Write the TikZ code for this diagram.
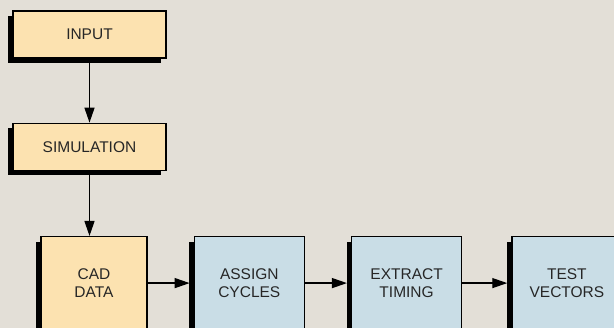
\documentclass[tikz,border=0pt]{standalone}
\usepackage{fontspec}
\setmainfont{Liberation Sans}
\usetikzlibrary{arrows.meta,positioning,shadows}
\definecolor{paper}{RGB}{227,223,215}
\definecolor{srcfill}{RGB}{252,226,176}
\definecolor{toolfill}{RGB}{201,221,230}

\begin{document}
\begin{tikzpicture}[
  x=1pt,y=1pt,
  node distance=46pt,
  stepbox/.style={draw,line width=1.3pt,align=center,text=black!85,inner sep=0pt,
    font=\fontsize{15.5}{18}\selectfont,
    drop shadow={shadow xshift=-5pt,shadow yshift=-5pt,fill=black,opacity=1}},
  srcbox/.style={stepbox,fill=srcfill,minimum width=153pt,minimum height=47pt},
  toolbox/.style={stepbox,fill=toolfill,minimum width=110pt,minimum height=93pt},
  arr/.style={-{Triangle[length=15pt,width=10pt]},line width=1.3pt}
]
\fill[paper] (0,0) rectangle (614,328);
\useasboundingbox (0,0) rectangle (614,328);
\node[srcbox] (input) at (89.5,293.5) {INPUT};
\node[srcbox,below=64pt of input] (sim) {SIMULATION};
\node[toolbox,fill=srcfill,minimum width=106pt,below=65pt of sim,xshift=4.5pt] (cad) {CAD\\DATA};
\node[toolbox,right=of cad] (assign) {ASSIGN\\CYCLES};
\node[toolbox,right=of assign] (extract) {EXTRACT\\TIMING};
\node[toolbox,right=49pt of extract] (test) {TEST\\VECTORS};
\draw[arr] (input) -- (sim);
\draw[arr] (sim) -- (sim |- cad.north);
\draw[arr,shorten >=4pt] (cad) -- (assign);
\draw[arr,shorten >=4pt] (assign) -- (extract);
\draw[arr,shorten >=4pt] (extract) -- (test);
\end{tikzpicture}
\end{document}
